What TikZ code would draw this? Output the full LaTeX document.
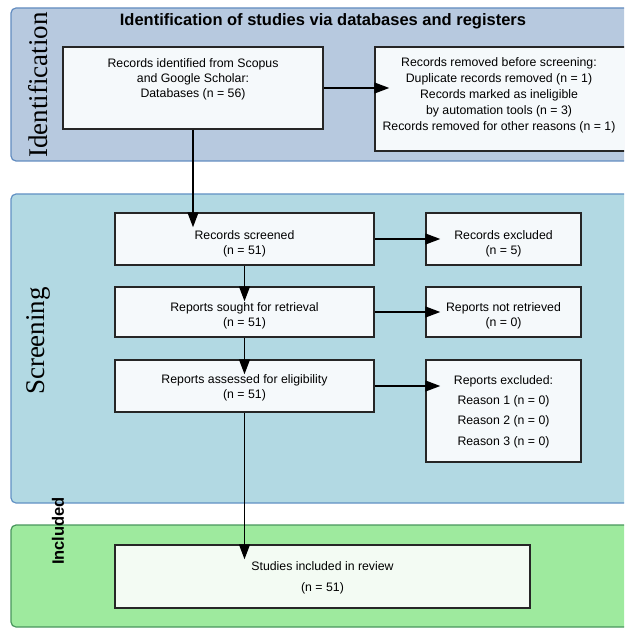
\documentclass[tikz,border=0pt]{standalone}
\usepackage{fontspec}
\setmainfont{Liberation Serif}
\setsansfont{Liberation Sans}
\usetikzlibrary{arrows.meta}
\definecolor{idfill}{RGB}{183,201,223}
\definecolor{idline}{RGB}{98,140,192}
\definecolor{scfill}{RGB}{178,217,227}
\definecolor{scline}{RGB}{98,145,196}
\definecolor{infill}{RGB}{158,234,158}
\definecolor{inline}{RGB}{72,150,92}
\definecolor{boxfill}{RGB}{245,249,251}
\definecolor{greenbox}{RGB}{243,251,243}
\tikzset{
  panel/.style={rounded corners=5pt, line width=1.2pt},
  stagebox/.style={draw=black!85, line width=1.5pt, fill=boxfill, inner sep=0pt},
  txt/.style={font=\sffamily\fontsize{12.3}{15}\selectfont, align=center, inner sep=0pt},
  flow/.style={line width=1.3pt, -{Triangle[length=15pt,width=11pt]}, shorten >=-15pt},
  sidelabel/.style={font=\rmfamily\fontsize{27}{27}\selectfont, rotate=90, inner sep=0pt}
}
\begin{document}
\begin{tikzpicture}[x=1pt,y=-1pt]
\useasboundingbox (0,0) rectangle (624,628);
\clip (0,0) rectangle (624,628);
% panels
\draw[panel, fill=idfill, draw=idline] (11,8) rectangle (640,161);
\draw[panel, fill=scfill, draw=scline] (11,194) rectangle (640,503);
\draw[panel, fill=infill, draw=inline] (11,525) rectangle (640,627);
\node[font=\sffamily\bfseries\fontsize{16.5}{16.5}\selectfont, inner sep=0pt] (title) at (323,21) {Identification of studies via databases and registers};
\node[sidelabel] (lid) at (38,85) {Identification};
\node[sidelabel] (lsc) at (38,341) {Screening};
\node[font=\sffamily\bfseries\fontsize{16.5}{16.5}\selectfont, rotate=90, inner sep=0pt] (lin) at (58,531) {Included};
% boxes
\node[stagebox, minimum width=260pt, minimum height=82pt] (b1) at (193,88) {};
\node[stagebox, minimum width=252pt, minimum height=104pt] (b2) at (501,99) {};
\node[stagebox, minimum width=259pt, minimum height=52pt] (b3) at (244.5,239) {};
\node[stagebox, minimum width=155pt, minimum height=52pt] (b4) at (503.5,239) {};
\node[stagebox, minimum width=259pt, minimum height=50pt] (b5) at (244.5,312) {};
\node[stagebox, minimum width=155pt, minimum height=50pt] (b6) at (503.5,312) {};
\node[stagebox, minimum width=259pt, minimum height=52pt] (b7) at (244.5,386) {};
\node[stagebox, minimum width=155pt, minimum height=102pt] (b8) at (503.5,411) {};
\node[stagebox, fill=greenbox, minimum width=415pt, minimum height=63pt] (b9) at (322.5,576.5) {};
% texts
\node[txt] (t1) at (193,79) {Records identified from Scopus\\and Google Scholar:\\Databases (n = 56)};
\node[txt, font=\sffamily\fontsize{12.3}{16}\selectfont] (t2) at (499,95.5) {Records removed before screening:\\Duplicate records removed (n = 1)\\Records marked as ineligible\\by automation tools (n = 3)\\Records removed for other reasons (n = 1)};
\node[txt] (t3) at (244.5,243.5) {Records screened\\(n = 51)};
\node[txt] (t4) at (503.5,243.5) {Records excluded\\(n = 5)};
\node[txt] (t5) at (244.5,315.5) {Reports sought for retrieval\\(n = 51)};
\node[txt] (t6) at (503.5,315.5) {Reports not retrieved\\(n = 0)};
\node[txt] (t7) at (244.5,388) {Reports assessed for eligibility\\(n = 51)};
\node[txt, font=\sffamily\fontsize{12.3}{20.3}\selectfont] (t8) at (503.5,411.5) {Reports excluded:\\Reason 1 (n = 0)\\Reason 2 (n = 0)\\Reason 3 (n = 0)};
\node[txt, font=\sffamily\fontsize{12.3}{21}\selectfont] (t9) at (322.5,577.5) {Studies included in review\\(n = 51)};
% connectors
\draw[flow] (b1.east) -- (b1.east -| b2.west);
\draw[flow] (b1.south) -- (b1.south |- b3.north);
\draw[flow] (b3.east) -- (b4.west);
\draw[flow] (b3.south) -- (b5.north);
\draw[flow] (b5.east) -- (b6.west);
\draw[flow] (b5.south) -- (b7.north);
\draw[flow] (b7.east) -- (b7.east -| b8.west);
\draw[flow] (b7.south) -- (b7.south |- b9.north);
\end{tikzpicture}
\end{document}
